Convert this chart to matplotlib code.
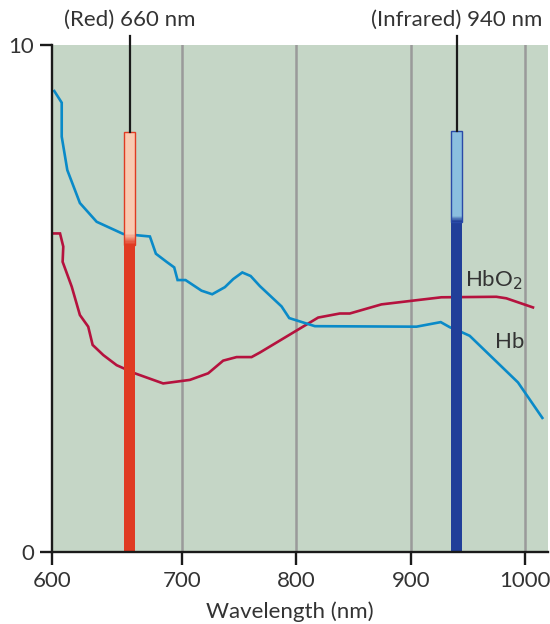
import numpy as np
import matplotlib
matplotlib.use("Agg")
import matplotlib.pyplot as plt

# absorption curves (nm, relative absorption)
hb_nm = [601.8, 607.5, 607.5, 611.8, 621.5, 634.4, 654.8, 675.4, 680, 688.2, 694.1,
         696.7, 703.2, 717.2, 726.5, 737.6, 744.9, 752.8, 760.1, 768.2, 787.1, 793.8,
         816.2, 905, 926.2, 934.1, 943.7, 951.5, 993.7, 1015]
hb_val = [9.09, 8.86, 8.19, 7.53, 6.88, 6.51, 6.27, 6.22, 5.88, 5.72, 5.61,
          5.36, 5.36, 5.15, 5.08, 5.22, 5.38, 5.51, 5.44, 5.24, 4.84, 4.61,
          4.45, 4.44, 4.53, 4.43, 4.34, 4.26, 3.34, 2.64]

hbo2_nm = [601.8, 606.2, 608.7, 608.2, 615.2, 621.5, 627.9, 631.3, 639.5, 649.8, 663.8,
           685.6, 707, 723, 736.1, 747.8, 760.9, 768.2, 819.1, 838, 846.7, 874.4,
           907.9, 926.8, 974.8, 983.5, 1006.8]
hbo2_val = [6.28, 6.28, 6.02, 5.72, 5.23, 4.67, 4.44, 4.08, 3.88, 3.68, 3.52,
            3.32, 3.39, 3.52, 3.77, 3.84, 3.84, 3.93, 4.62, 4.70, 4.70, 4.88,
            4.97, 5.02, 5.03, 5.00, 4.82]

# LED wavelengths: name, nm, bar top, start/end of the colour fade
led_names = ["(Red) 660 nm", "(Infrared) 940 nm"]
led_nm = [660, 940]
led_top = [8.28, 8.30]
led_fade = [(6.05, 6.29), (6.51, 6.64)]

x_ticks = [600, 700, 800, 900, 1000]
y_ticks = [0, 10]

text_c = "#333333"
plt.rcParams['font.family'] = ['Lato', 'DejaVu Sans']


# the drawing squeezes 600-700 a bit wider than the rest
def fwd(x):
    x = np.asarray(x, dtype=float)
    return np.where(x < 700, 700 - (700 - x) * 1.135, x)


def inv(x):
    x = np.asarray(x, dtype=float)
    return np.where(x < 700, 700 - (700 - x) / 1.135, x)


fig = plt.figure(figsize=(5.5, 6.24), dpi=100)
ax = fig.add_axes([0.0945, 0.1159, 0.902, 0.8121])
ax.set_xscale('function', functions=(fwd, inv))
ax.set_facecolor("#c5d6c6")

for gx in x_ticks[1:]:
    ax.axvline(gx, color="#9a9a9a", lw=1.8, zorder=1)

ax.plot(hbo2_nm, hbo2_val, color="#b5123e", lw=1.9, zorder=3, solid_joinstyle='miter')
ax.plot(hb_nm, hb_val, color="#0a8ac8", lw=1.9, zorder=3, solid_joinstyle='miter')


def fade(c1, c2, n):
    c1 = np.array(matplotlib.colors.to_rgb(c1))
    c2 = np.array(matplotlib.colors.to_rgb(c2))
    return [tuple(c1 + (c2 - c1) * t) for t in np.linspace(0, 1, n)]


bar_cols = [("#e03a22", "#f9c9b1", "#e03a22", 8.5), ("#213f99", "#8bbfdf", "#2a4aa8", 10)]
for name, nm, top, (f0, f1), (dark, light, edge, w) in zip(led_names, led_nm, led_top, led_fade, bar_cols):
    ax.bar(nm, f0, width=w, bottom=0, color=dark, lw=0, zorder=4)
    steps = 10
    edges = np.linspace(f0, f1, steps + 1)
    for i, c in enumerate(fade(dark, light, steps)):
        ax.bar(nm, edges[i + 1] - edges[i], width=w, bottom=edges[i], color=c, lw=0, zorder=4)
    ax.bar(nm, top - f1, width=w, bottom=f1, color=light, lw=0, zorder=4)
    ax.bar(nm, top - f0, width=w, bottom=f0, fill=False, edgecolor=edge, lw=1.0, zorder=5)
    ax.plot([nm, nm], [top, 10.17], color="#1a1a1a", lw=1.6, clip_on=False, zorder=5)
    ax.text(nm, 10.3, name, ha='center', va='bottom', fontsize=16, color=text_c)

ax.text(947.5, 5.36, "HbO$_2$", fontsize=16, color=text_c, va='center', ha='left', zorder=6)
ax.text(973.8, 4.14, "Hb", fontsize=16, color=text_c, va='center', ha='left', zorder=6)

ax.set_xlim(600, 1020)
ax.set_ylim(0, 10)
ax.set_xticks(x_ticks)
ax.set_yticks(y_ticks)
ax.xaxis.set_minor_locator(matplotlib.ticker.NullLocator())
ax.tick_params(length=9, width=1.7, color="#1a1a1a", labelsize=16, labelcolor=text_c)
ax.tick_params(axis='x', pad=5)
ax.tick_params(axis='y', pad=4)
for s in ['top', 'right']:
    ax.spines[s].set_visible(False)
for s in ['left', 'bottom']:
    ax.spines[s].set_linewidth(1.7)
    ax.spines[s].set_color("#1a1a1a")
    ax.spines[s].set_zorder(6)
ax.set_xlabel("Wavelength (nm)", fontsize=16, color=text_c, va='center')
ax.xaxis.set_label_coords(0.48, -0.119)

fig.savefig("out.png", dpi=100)
